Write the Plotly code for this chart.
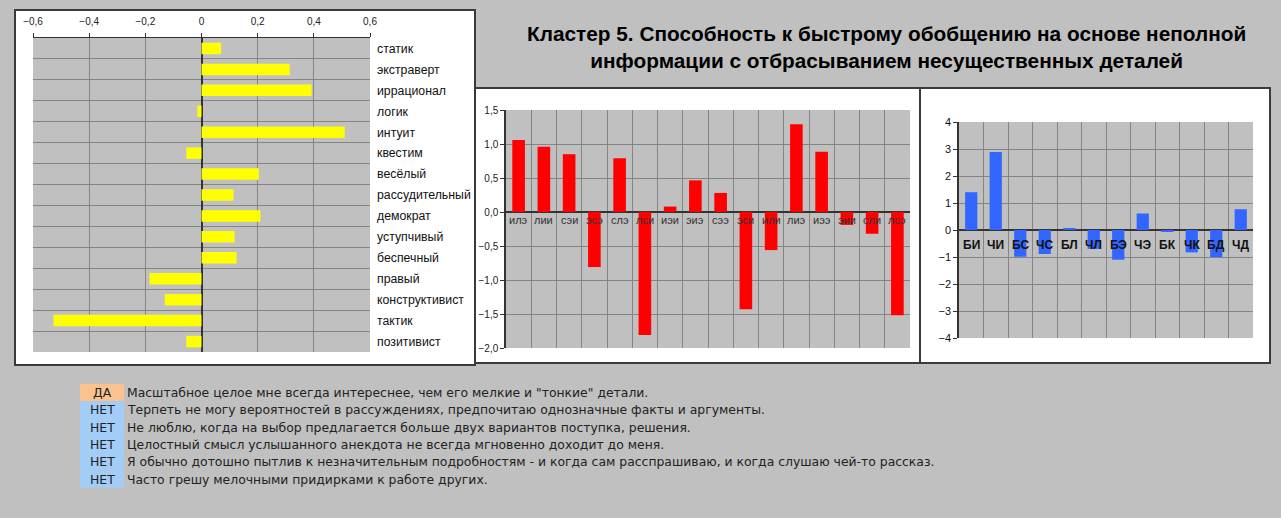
import plotly.graph_objects as go

W, H = 1281, 518

# left panel: trait scales
traits = ["статик", "экстраверт", "иррационал", "логик", "интуит", "квестим", "весёлый",
          "рассудительный", "демократ", "уступчивый", "беспечный", "правый",
          "конструктивист", "тактик", "позитивист"]
trait_vals = [0.07, 0.314, 0.392, -0.015, 0.51, -0.054, 0.204,
              0.114, 0.21, 0.118, 0.125, -0.185,
              -0.131, -0.527, -0.054]

# middle panel: socionic types
types = ["илэ", "лии", "сэи", "эсэ", "слэ", "лси", "иэи", "эиэ",
         "сээ", "эси", "или", "лиэ", "иээ", "эии", "сли", "лсэ"]
type_vals = [1.06, 0.96, 0.85, -0.81, 0.79, -1.81, 0.08, 0.465,
             0.28, -1.43, -0.56, 1.29, 0.886, -0.19, -0.32, -1.52]

# right panel: aspects
aspects = ["БИ", "ЧИ", "БС", "ЧС", "БЛ", "ЧЛ", "БЭ", "ЧЭ", "БК", "ЧК", "БД", "ЧД"]
aspect_vals = [1.40, 2.89, -0.99, -0.89, 0.04, -0.7, -1.1, 0.61, -0.06, -0.83, -1.0, 0.77]

answers = ["ДА", "НЕТ", "НЕТ", "НЕТ", "НЕТ", "НЕТ"]
statements = [
    "Масштабное целое мне всегда интереснее, чем его мелкие и \"тонкие\" детали.",
    "Терпеть не могу вероятностей в рассуждениях, предпочитаю однозначные факты и аргументы.",
    "Не люблю, когда на выбор предлагается больше двух вариантов поступка, решения.",
    "Целостный смысл услышанного анекдота не всегда мгновенно доходит до меня.",
    "Я обычно дотошно пытлив к незначительным подробностям - и когда сам расспрашиваю, и когда слушаю чей-то рассказ.",
    "Часто грешу мелочными придирками к работе других.",
]
answer_colors = {"ДА": "#f9c28e", "НЕТ": "#a2cdf7"}

title = ("<b>Кластер 5. Способность к быстрому обобщению на основе неполной<br>"
         "информации с отбрасыванием несущественных деталей</b>")

FONT = "Liberation Sans, Arial, sans-serif"
TEXT_FONT = "DejaVu Sans, Verdana, sans-serif"
GRID = "#858585"
AXIS = "#333333"


def px(x):
    return x / W


def py(y):
    return 1 - y / H


def dom_x(a, b):
    return [px(a), px(b)]


def dom_y(top, bottom):
    return [py(bottom), py(top)]


fig = go.Figure()

fig.add_trace(go.Bar(x=trait_vals, y=traits, orientation="h", width=0.55,
                     marker=dict(color="#ffff00", line_width=0),
                     xaxis="x", yaxis="y"))

fig.add_trace(go.Bar(x=types, y=type_vals, width=0.5,
                     marker=dict(color="#ff0000", line_width=0),
                     xaxis="x2", yaxis="y2"))

fig.add_trace(go.Bar(x=aspects, y=aspect_vals, width=0.5,
                     marker=dict(color="#3366ff", line_width=0),
                     xaxis="x3", yaxis="y3"))

shapes = []
# white chart panels
for (x0, y0, x1, y1) in [(15, 10, 475, 365), (475, 88, 920, 363), (920, 88, 1270, 363)]:
    shapes.append(dict(type="rect", xref="paper", yref="paper",
                       x0=px(x0), x1=px(x1), y0=py(y1), y1=py(y0),
                       fillcolor="white", line=dict(color="#3a3a3a", width=2), layer="below"))
# grey plot areas
for ax in ["x", "x2", "x3"]:
    ay = ax.replace("x", "y")
    shapes.append(dict(type="rect", xref=ax + " domain", yref=ay + " domain",
                       x0=0, x1=1, y0=0, y1=1, fillcolor="#c0c0c0",
                       line_width=0, layer="below"))

annotations = [dict(text=title, x=px(886), y=py(47), xref="paper", yref="paper",
                    showarrow=False, align="center", xanchor="center", yanchor="middle",
                    font=dict(family=FONT, size=20.8, color="black"))]

# category labels sitting under the zero line
for t in types:
    annotations.append(dict(text=t, x=t, y=0, xref="x2", yref="y2", showarrow=False,
                            xanchor="center", yanchor="middle", yshift=-8,
                            font=dict(family=FONT, size=11, color="#333333")))
for a in aspects:
    annotations.append(dict(text="<b>" + a + "</b>", x=a, y=0, xref="x3", yref="y3",
                            showarrow=False, xanchor="center", yanchor="middle", yshift=-15,
                            font=dict(family=FONT, size=12, color="#111111")))

# answer rows below the charts
for i, (ans, st) in enumerate(zip(answers, statements)):
    yc = 392.5 + i * 17.3
    shapes.append(dict(type="rect", xref="paper", yref="paper",
                       x0=px(80), x1=px(124), y0=py(yc + 8.6), y1=py(yc - 8.6),
                       fillcolor=answer_colors[ans], line_width=0, layer="below"))
    annotations.append(dict(text=ans, x=px(102), y=py(yc), xref="paper", yref="paper",
                            showarrow=False, xanchor="center", yanchor="middle",
                            font=dict(family=TEXT_FONT, size=12.4, color="#222222")))
    annotations.append(dict(text=st, x=px(125), y=py(yc), xref="paper", yref="paper",
                            showarrow=False, xanchor="left", yanchor="middle",
                            font=dict(family=TEXT_FONT, size=12.4, color="#222222")))

tick_font = dict(family=FONT, size=10, color="#222222")

fig.update_layout(
    width=W, height=H,
    margin=dict(l=0, r=0, t=0, b=0),
    template="none",
    paper_bgcolor="#c0c0c0",
    plot_bgcolor="rgba(0,0,0,0)",
    separators=", ",
    showlegend=False,
    shapes=shapes,
    annotations=annotations,
    xaxis=dict(domain=dom_x(33, 370), anchor="y", side="top",
               range=[-0.6, 0.6], tick0=-0.6, dtick=0.2,
               showgrid=True, gridcolor=GRID, gridwidth=1,
               zeroline=True, zerolinecolor=AXIS, zerolinewidth=2,
               showline=True, linecolor=AXIS, linewidth=1,
               ticks="outside", ticklen=4, tickcolor=AXIS, ticklabelstandoff=4,
               tickfont=tick_font, fixedrange=True),
    yaxis=dict(domain=dom_y(38, 352), anchor="x", type="category",
               autorange="reversed", side="right", tickson="boundaries",
               showgrid=True, gridcolor=GRID, gridwidth=1,
               ticks="", showline=False, zeroline=False, ticklabelstandoff=6,
               tickfont=dict(family=FONT, size=12.3, color="#111111")),
    xaxis2=dict(domain=dom_x(506, 910), anchor="y2", type="category",
                tickson="boundaries", showgrid=True, gridcolor=GRID,
                showticklabels=False, ticks="", showline=False, zeroline=False),
    yaxis2=dict(domain=dom_y(110, 348), anchor="x2",
                range=[-2, 1.5], tick0=-2, dtick=0.5, tickformat=".1f",
                showgrid=True, gridcolor=GRID,
                zeroline=True, zerolinecolor=AXIS, zerolinewidth=1.5,
                showline=True, linecolor=AXIS, linewidth=1.5,
                ticks="outside", ticklen=4, tickcolor=AXIS,
                tickfont=tick_font),
    xaxis3=dict(domain=dom_x(959, 1253), anchor="y3", type="category",
                tickson="boundaries", showgrid=True, gridcolor=GRID,
                showticklabels=False, ticks="", showline=False, zeroline=False),
    yaxis3=dict(domain=dom_y(122, 338), anchor="x3",
                range=[-4, 4], dtick=1,
                showgrid=True, gridcolor=GRID,
                zeroline=True, zerolinecolor=AXIS, zerolinewidth=1.5,
                showline=True, linecolor=AXIS, linewidth=1.5,
                ticks="outside", ticklen=4, tickcolor=AXIS,
                tickfont=dict(family=FONT, size=11, color="#111111")),
)

# the page body has a default 8px margin; drop it so the figure fills the window
fig.write_html("out.html", config={"displayModeBar": False},
               post_script="document.body.style.margin='0px';")
